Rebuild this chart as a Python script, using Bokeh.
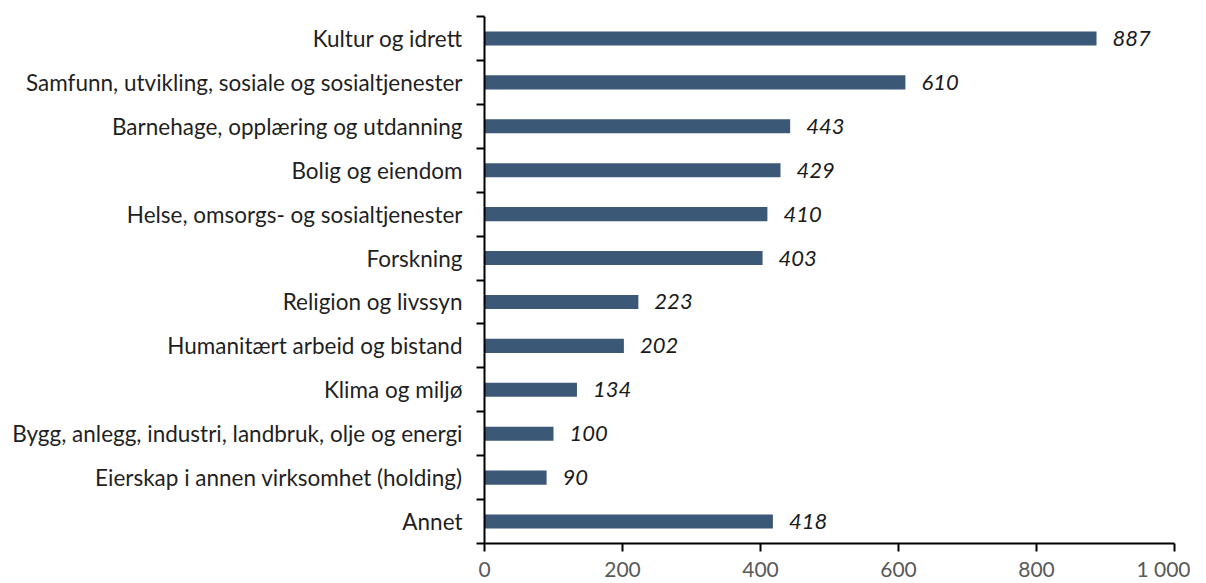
from bokeh.plotting import figure
from bokeh.models import ColumnDataSource, FixedTicker, Range1d, LabelSet
from bokeh.core.properties import value
from bokeh.embed import file_html
from bokeh.resources import INLINE

categories = [
    "Kultur og idrett",
    "Samfunn, utvikling, sosiale og sosialtjenester",
    "Barnehage, opplæring og utdanning",
    "Bolig og eiendom",
    "Helse, omsorgs- og sosialtjenester",
    "Forskning",
    "Religion og livssyn",
    "Humanitært arbeid og bistand",
    "Klima og miljø",
    "Bygg, anlegg, industri, landbruk, olje og energi",
    "Eierskap i annen virksomhet (holding)",
    "Annet",
]
values = [887, 610, 443, 429, 410, 403, 223, 202, 134, 100, 90, 418]
x_ticks = [0, 200, 400, 600, 800, 1000]
x_tick_labels = ["0", "200", "400", "600", "800", "1 000"]

n = len(categories)
ypos = [n - i - 0.5 for i in range(n)]

src = ColumnDataSource(dict(
    y=ypos, v=values, cat=categories, lab=[str(v) for v in values]
))

p = figure(width=1190, height=583, output_backend="svg", toolbar_location=None,
           x_range=Range1d(0, 1000), y_range=Range1d(0, n),
           min_border_left=484, min_border_right=16, min_border_top=16,
           min_border_bottom=38)
p.outline_line_color = None
p.grid.grid_line_color = None
p.background_fill_color = "white"

p.hbar(y="y", right="v", left=0, height=0.32, source=src,
       fill_color="#3B5877", line_color=None)

labels = LabelSet(x="v", y="y", text="lab", source=src, x_offset=16,
                  text_baseline="middle", text_align="left",
                  text_font=value("Lato"), text_font_style="italic",
                  text_font_size="22px", text_color="#1a1a1a")
p.add_layout(labels)

ya = p.yaxis[0]
ya.ticker = FixedTicker(ticks=ypos, minor_ticks=list(range(n + 1)))
ya.major_label_overrides = {y: c for y, c in zip(ypos, categories)}
ya.major_tick_out = 0
ya.major_tick_in = 0
ya.minor_tick_out = 8
ya.minor_tick_in = 0
ya.minor_tick_line_color = "black"
ya.minor_tick_line_width = 2
ya.axis_line_color = "black"
ya.axis_line_width = 2
ya.major_label_text_font = "Lato"
ya.major_label_text_font_size = "22.5px"
ya.major_label_text_color = "#1f1f1f"
ya.major_label_standoff = 14

xa = p.xaxis[0]
xa.ticker = FixedTicker(ticks=x_ticks, minor_ticks=[])
xa.major_label_overrides = {t: l for t, l in zip(x_ticks, x_tick_labels)}
xa.major_tick_out = 8
xa.major_tick_in = 0
xa.major_tick_line_color = "black"
xa.major_tick_line_width = 2
xa.minor_tick_out = 0
xa.minor_tick_in = 0
xa.axis_line_color = "black"
xa.axis_line_width = 2
xa.major_label_text_font = "Lato"
xa.major_label_text_font_size = "21px"
xa.major_label_text_color = "#595959"
xa.major_label_standoff = 4

open("out.html", "w").write(file_html(p, INLINE))
